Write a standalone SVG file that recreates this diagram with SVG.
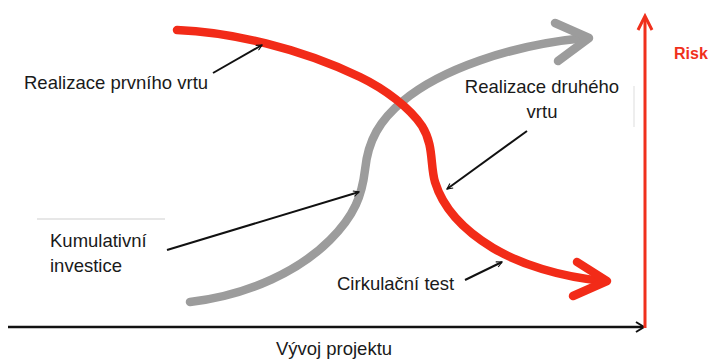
<svg xmlns="http://www.w3.org/2000/svg" width="709" height="361" viewBox="0 0 709 361">
<defs>
<marker id="ah" viewBox="0 0 10 10" refX="9" refY="5" markerWidth="7" markerHeight="7" orient="auto" markerUnits="userSpaceOnUse">
<path d="M1,1 L9,5 L1,9" fill="none" stroke="#111" stroke-width="1.6"/>
</marker>
</defs>
<style>
.lbl{font-family:"Liberation Sans",Arial,sans-serif;font-size:18.5px;fill:#1a1a1a}
.ptr{fill:none;stroke:#111;stroke-width:2}
.red{fill:none;stroke:#f22b18;stroke-width:8.5;stroke-linecap:round;stroke-linejoin:round}
.gray{fill:none;stroke:#9c9c9c;stroke-width:8.5;stroke-linecap:round;stroke-linejoin:round}
</style>
<rect width="709" height="361" fill="#fff"/>
<g id="axes">
<line x1="8" y1="327" x2="643" y2="327" stroke="#111" stroke-width="2.5"/>
<path d="M636,322 L644,327 L636,332" fill="none" stroke="#111" stroke-width="2"/>
<line x1="645" y1="328" x2="645" y2="17" stroke="#f0301c" stroke-width="3"/>
<path d="M638,30 L645,16 L652,30" fill="none" stroke="#f0301c" stroke-width="3"/>
<text x="674" y="59" style="font-family:'Liberation Sans',Arial,sans-serif;font-size:16px;font-weight:bold;fill:#f0301c">Risk</text>
<text x="334" y="355" text-anchor="middle" class="lbl">Vývoj projektu</text>
</g>
<g id="curves">
<path class="gray" d="M190,302 C250,295 300,270 330,240 C355,215 362,195 365,170 C368,140 380,120 403,101 C440,70 510,45 585,38"/>
<polyline class="gray" points="555,23 589,38 558,61"/>
<path class="red" d="M177,30 C230,32 300,48 360,77 C385,89 410,108 422,126 C434,145 430,165 435,182 C442,205 460,228 493,248 C520,264 560,277 604,281"/>
<polyline class="red" points="577,262 607,281 573,296"/>
</g>
<g id="n1">
<text x="24" y="89" class="lbl">Realizace prvního vrtu</text>
</g>
<g id="n2">
<rect x="452" y="77" width="183" height="51" fill="#fff"/>
<line x1="634" y1="86" x2="634" y2="127" stroke="#ddd" stroke-width="1"/>
<text x="542" y="93" text-anchor="middle" class="lbl">Realizace druhého</text>
<text x="542" y="118" text-anchor="middle" class="lbl">vrtu</text>
</g>
<g id="n3">
<line x1="37" y1="219" x2="165" y2="219" stroke="#cfcfcf" stroke-width="1"/>
<text x="50" y="247" class="lbl">Kumulativní</text>
<text x="50" y="272" class="lbl">investice</text>
</g>
<g id="n4">
<text x="337" y="290" class="lbl">Cirkulační test</text>
</g>
<g id="connectors">
<line class="ptr" x1="213" y1="73" x2="262" y2="45" marker-end="url(#ah)"/>
<line class="ptr" x1="527" y1="131" x2="447" y2="189" marker-end="url(#ah)"/>
<line class="ptr" x1="167" y1="250" x2="359" y2="192" marker-end="url(#ah)"/>
<line class="ptr" x1="465" y1="280" x2="502" y2="262" marker-end="url(#ah)"/>
</g>
</svg>
